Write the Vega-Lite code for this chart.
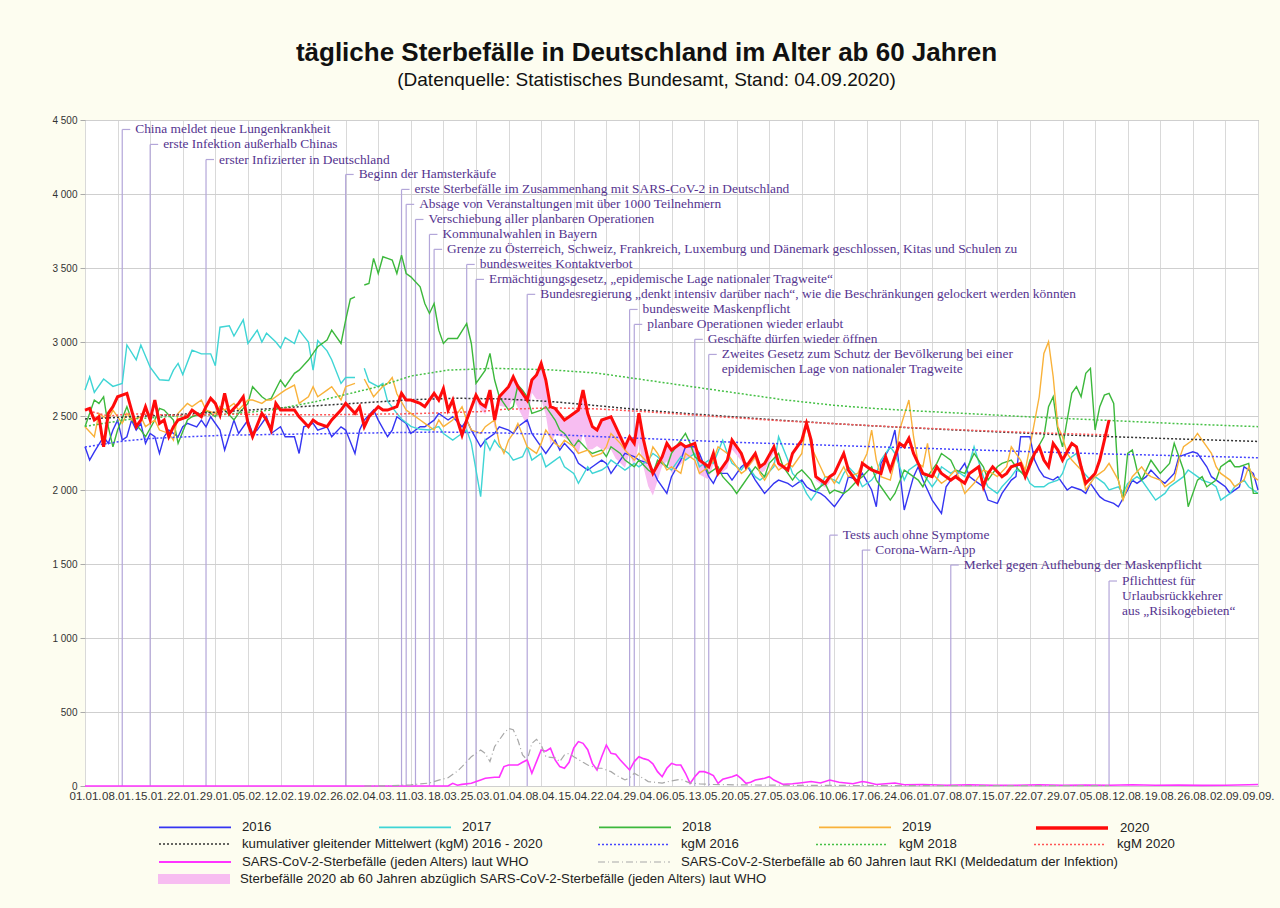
{
"$schema":"https://vega.github.io/schema/vega-lite/v6.json",
"width":1173,"height":666,
"autosize":{"type":"none"},
"padding":{"left":85,"top":120,"right":22,"bottom":122},
"background":"#fdfdf0",
"title":{"text":"tägliche Sterbefälle in Deutschland im Alter ab 60 Jahren","subtitle":"(Datenquelle: Statistisches Bundesamt, Stand: 04.09.2020)","anchor":"middle","dx":-25,"offset":25,"font":"Liberation Sans","fontSize":26,"fontWeight":"bold","color":"#111","subtitleFont":"Liberation Sans","subtitleFontSize":19,"subtitleColor":"#111","subtitlePadding":5},
"config":{"view":{"stroke":"#999","fill":"white"},"font":"Liberation Sans"},
"datasets":{
"ann":[
{"t":8,"v":4436,"txt":"China meldet neue Lungenkrankheit"},
{"t":14,"v":4335,"txt":"erste Infektion außerhalb Chinas"},
{"t":26,"v":4233,"txt":"erster Infizierter in Deutschland"},
{"t":56,"v":4132,"txt":"Beginn der Hamsterkäufe"},
{"t":68,"v":4031,"txt":"erste Sterbefälle im Zusammenhang mit SARS-CoV-2 in Deutschland"},
{"t":69,"v":3930,"txt":"Absage von Veranstaltungen mit über 1000 Teilnehmern"},
{"t":71,"v":3828,"txt":"Verschiebung aller planbaren Operationen"},
{"t":74,"v":3727,"txt":"Kommunalwahlen in Bayern"},
{"t":75,"v":3626,"txt":"Grenze zu Österreich, Schweiz, Frankreich, Luxemburg und Dänemark geschlossen, Kitas und Schulen zu"},
{"t":82,"v":3524,"txt":"bundesweites Kontaktverbot"},
{"t":84,"v":3423,"txt":"Ermächtigungsgesetz, „epidemische Lage nationaler Tragweite“"},
{"t":95,"v":3322,"txt":"Bundesregierung „denkt intensiv darüber nach“, wie die Beschränkungen gelockert werden könnten"},
{"t":117,"v":3220,"txt":"bundesweite Maskenpflicht"},
{"t":118,"v":3119,"txt":"planbare Operationen wieder erlaubt"},
{"t":131,"v":3018,"txt":"Geschäfte dürfen wieder öffnen"},
{"t":134,"v":2916,"txt":"Zweites Gesetz zum Schutz der Bevölkerung bei einer\nepidemischen Lage von nationaler Tragweite"},
{"t":160,"v":1695,"txt":"Tests auch ohne Symptome"},
{"t":167,"v":1594,"txt":"Corona-Warn-App"},
{"t":186,"v":1493,"txt":"Merkel gegen Aufhebung der Maskenpflicht"},
{"t":220,"v":1385,"txt":"Pflichttest für\nUrlaubsrückkehrer\naus „Risikogebieten“"}
],
"ex":[
{"t":78,"v":2540,"lo":2540},{"t":79,"v":2608,"lo":2590},{"t":80,"v":2473,"lo":2468},{"t":81,"v":2371,"lo":2360},{"t":82,"v":2473,"lo":2458},{"t":84,"v":2641,"lo":2611},{"t":85,"v":2585,"lo":2544},{"t":86,"v":2563,"lo":2511},{"t":87,"v":2675,"lo":2620},{"t":88,"v":2473,"lo":2414},{"t":89,"v":2630,"lo":2570},{"t":91,"v":2698,"lo":2556},{"t":92,"v":2765,"lo":2623},{"t":93,"v":2698,"lo":2556},{"t":95,"v":2608,"lo":2432},{"t":96,"v":2743,"lo":2657},{"t":97,"v":2777,"lo":2612},{"t":98,"v":2855,"lo":2612},{"t":99,"v":2743,"lo":2508},{"t":100,"v":2563,"lo":2308},{"t":101,"v":2551,"lo":2375},{"t":103,"v":2473,"lo":2353},{"t":104,"v":2495,"lo":2335},{"t":106,"v":2540,"lo":2240},{"t":107,"v":2675,"lo":2387},{"t":108,"v":2518,"lo":2273},{"t":109,"v":2428,"lo":2275},{"t":110,"v":2405,"lo":2297},{"t":111,"v":2473,"lo":2275},{"t":113,"v":2495,"lo":2274},{"t":114,"v":2428,"lo":2213},{"t":116,"v":2292,"lo":2150},{"t":117,"v":2360,"lo":2252},{"t":118,"v":2315,"lo":2150},{"t":119,"v":2518,"lo":2320},{"t":120,"v":2337,"lo":2152},{"t":121,"v":2202,"lo":2026},{"t":122,"v":2112,"lo":1962},{"t":124,"v":2225,"lo":2162},{"t":125,"v":2315,"lo":2195},{"t":126,"v":2270,"lo":2117},{"t":128,"v":2315,"lo":2173},{"t":129,"v":2292,"lo":2206},{"t":131,"v":2315,"lo":2252},{"t":132,"v":2202,"lo":2105},{"t":134,"v":2157,"lo":2071},{"t":135,"v":2247,"lo":2177},{"t":136,"v":2112,"lo":2094},{"t":138,"v":2202,"lo":2147},{"t":139,"v":2337,"lo":2274},{"t":141,"v":2247,"lo":2197},{"t":142,"v":2157,"lo":2139},{"t":144,"v":2247,"lo":2206},{"t":145,"v":2157,"lo":2112},{"t":146,"v":2180,"lo":2128},{"t":148,"v":2292,"lo":2252},{"t":149,"v":2180,"lo":2155},{"t":151,"v":2135,"lo":2122},{"t":152,"v":2247,"lo":2232},{"t":154,"v":2337,"lo":2315},{"t":155,"v":2450,"lo":2424},{"t":156,"v":2337,"lo":2307},{"t":157,"v":2090,"lo":2065},{"t":159,"v":2045,"lo":2015},{"t":160,"v":2090,"lo":2050}
],
"years":[
{"yr":"2016","t":0,"v":2292},{"yr":"2016","t":1,"v":2202},{"yr":"2016","t":2,"v":2258},{"yr":"2016","t":4,"v":2360},{"yr":"2016","t":5,"v":2315},{"yr":"2016","t":6,"v":2405},{"yr":"2016","t":7,"v":2472},{"yr":"2016","t":8,"v":2337},{"yr":"2016","t":9,"v":2360},{"yr":"2016","t":10,"v":2472},{"yr":"2016","t":11,"v":2405},{"yr":"2016","t":12,"v":2450},{"yr":"2016","t":13,"v":2315},{"yr":"2016","t":14,"v":2382},{"yr":"2016","t":15,"v":2360},{"yr":"2016","t":16,"v":2247},{"yr":"2016","t":17,"v":2360},{"yr":"2016","t":18,"v":2405},{"yr":"2016","t":20,"v":2360},{"yr":"2016","t":21,"v":2427},{"yr":"2016","t":22,"v":2450},{"yr":"2016","t":24,"v":2427},{"yr":"2016","t":25,"v":2472},{"yr":"2016","t":26,"v":2427},{"yr":"2016","t":27,"v":2495},{"yr":"2016","t":29,"v":2405},{"yr":"2016","t":30,"v":2270},{"yr":"2016","t":32,"v":2472},{"yr":"2016","t":33,"v":2382},{"yr":"2016","t":35,"v":2472},{"yr":"2016","t":36,"v":2382},{"yr":"2016","t":37,"v":2405},{"yr":"2016","t":39,"v":2495},{"yr":"2016","t":40,"v":2382},{"yr":"2016","t":42,"v":2427},{"yr":"2016","t":43,"v":2360},{"yr":"2016","t":45,"v":2360},{"yr":"2016","t":46,"v":2247},{"yr":"2016","t":47,"v":2427},{"yr":"2016","t":49,"v":2450},{"yr":"2016","t":50,"v":2405},{"yr":"2016","t":52,"v":2427},{"yr":"2016","t":53,"v":2360},{"yr":"2016","t":55,"v":2427},{"yr":"2016","t":56,"v":2405},{"yr":"2016","t":58,"v":2247},{"yr":"2016","t":59,"v":2405},{"yr":"2016","t":60,"v":2472},{"yr":"2016","t":62,"v":2540},{"yr":"2016","t":63,"v":2472},{"yr":"2016","t":65,"v":2360},{"yr":"2016","t":66,"v":2405},{"yr":"2016","t":67,"v":2495},{"yr":"2016","t":69,"v":2450},{"yr":"2016","t":70,"v":2382},{"yr":"2016","t":72,"v":2427},{"yr":"2016","t":73,"v":2427},{"yr":"2016","t":75,"v":2472},{"yr":"2016","t":76,"v":2517},{"yr":"2016","t":78,"v":2473},{"yr":"2016","t":79,"v":2495},{"yr":"2016","t":81,"v":2427},{"yr":"2016","t":82,"v":2473},{"yr":"2016","t":83,"v":2405},{"yr":"2016","t":85,"v":2292},{"yr":"2016","t":86,"v":2337},{"yr":"2016","t":88,"v":2382},{"yr":"2016","t":89,"v":2427},{"yr":"2016","t":91,"v":2405},{"yr":"2016","t":92,"v":2382},{"yr":"2016","t":93,"v":2427},{"yr":"2016","t":95,"v":2473},{"yr":"2016","t":96,"v":2382},{"yr":"2016","t":98,"v":2292},{"yr":"2016","t":99,"v":2247},{"yr":"2016","t":101,"v":2337},{"yr":"2016","t":102,"v":2270},{"yr":"2016","t":103,"v":2315},{"yr":"2016","t":105,"v":2247},{"yr":"2016","t":106,"v":2180},{"yr":"2016","t":108,"v":2135},{"yr":"2016","t":109,"v":2157},{"yr":"2016","t":111,"v":2202},{"yr":"2016","t":112,"v":2180},{"yr":"2016","t":113,"v":2112},{"yr":"2016","t":115,"v":2202},{"yr":"2016","t":116,"v":2247},{"yr":"2016","t":118,"v":2225},{"yr":"2016","t":119,"v":2202},{"yr":"2016","t":121,"v":2180},{"yr":"2016","t":122,"v":2135},{"yr":"2016","t":123,"v":2067},{"yr":"2016","t":125,"v":1977},{"yr":"2016","t":126,"v":2090},{"yr":"2016","t":128,"v":2202},{"yr":"2016","t":129,"v":2292},{"yr":"2016","t":131,"v":2292},{"yr":"2016","t":132,"v":2247},{"yr":"2016","t":134,"v":2090},{"yr":"2016","t":135,"v":2045},{"yr":"2016","t":136,"v":2112},{"yr":"2016","t":138,"v":2112},{"yr":"2016","t":139,"v":2067},{"yr":"2016","t":141,"v":2157},{"yr":"2016","t":142,"v":2180},{"yr":"2016","t":144,"v":2067},{"yr":"2016","t":145,"v":2022},{"yr":"2016","t":146,"v":1977},{"yr":"2016","t":148,"v":2045},{"yr":"2016","t":149,"v":2067},{"yr":"2016","t":151,"v":2045},{"yr":"2016","t":152,"v":2022},{"yr":"2016","t":154,"v":2067},{"yr":"2016","t":155,"v":2022},{"yr":"2016","t":156,"v":2000},{"yr":"2016","t":158,"v":1977},{"yr":"2016","t":159,"v":1955},{"yr":"2016","t":161,"v":1887},{"yr":"2016","t":162,"v":1932},{"yr":"2016","t":163,"v":1977},{"yr":"2016","t":164,"v":2090},{"yr":"2016","t":166,"v":2067},{"yr":"2016","t":167,"v":2112},{"yr":"2016","t":169,"v":2000},{"yr":"2016","t":170,"v":1887},{"yr":"2016","t":171,"v":2180},{"yr":"2016","t":173,"v":2292},{"yr":"2016","t":174,"v":2405},{"yr":"2016","t":175,"v":2135},{"yr":"2016","t":176,"v":1865},{"yr":"2016","t":178,"v":2090},{"yr":"2016","t":179,"v":2157},{"yr":"2016","t":180,"v":2067},{"yr":"2016","t":181,"v":2000},{"yr":"2016","t":182,"v":1932},{"yr":"2016","t":184,"v":1842},{"yr":"2016","t":185,"v":2022},{"yr":"2016","t":186,"v":2067},{"yr":"2016","t":187,"v":2090},{"yr":"2016","t":189,"v":2180},{"yr":"2016","t":190,"v":2090},{"yr":"2016","t":191,"v":2067},{"yr":"2016","t":193,"v":2022},{"yr":"2016","t":194,"v":1932},{"yr":"2016","t":196,"v":1910},{"yr":"2016","t":197,"v":1977},{"yr":"2016","t":199,"v":2067},{"yr":"2016","t":200,"v":2090},{"yr":"2016","t":201,"v":2360},{"yr":"2016","t":203,"v":2360},{"yr":"2016","t":204,"v":2202},{"yr":"2016","t":205,"v":2135},{"yr":"2016","t":206,"v":2090},{"yr":"2016","t":208,"v":2067},{"yr":"2016","t":209,"v":2090},{"yr":"2016","t":211,"v":2000},{"yr":"2016","t":212,"v":2022},{"yr":"2016","t":214,"v":2000},{"yr":"2016","t":215,"v":1977},{"yr":"2016","t":216,"v":2045},{"yr":"2016","t":218,"v":1955},{"yr":"2016","t":219,"v":1932},{"yr":"2016","t":221,"v":1910},{"yr":"2016","t":222,"v":1887},{"yr":"2016","t":224,"v":2000},{"yr":"2016","t":225,"v":2067},{"yr":"2016","t":226,"v":2045},{"yr":"2016","t":228,"v":2090},{"yr":"2016","t":229,"v":2135},{"yr":"2016","t":231,"v":2067},{"yr":"2016","t":232,"v":2045},{"yr":"2016","t":234,"v":2112},{"yr":"2016","t":235,"v":2225},{"yr":"2016","t":237,"v":2247},{"yr":"2016","t":238,"v":2258},{"yr":"2016","t":239,"v":2247},{"yr":"2016","t":241,"v":2157},{"yr":"2016","t":242,"v":2090},{"yr":"2016","t":244,"v":2045},{"yr":"2016","t":245,"v":2022},{"yr":"2016","t":246,"v":1977},{"yr":"2016","t":248,"v":2022},{"yr":"2016","t":249,"v":2157},{"yr":"2016","t":251,"v":2112},{"yr":"2016","t":252,"v":2000},
{"yr":"2017","t":0,"v":2675},{"yr":"2017","t":1,"v":2765},{"yr":"2017","t":2,"v":2660},{"yr":"2017","t":4,"v":2750},{"yr":"2017","t":6,"v":2700},{"yr":"2017","t":8,"v":2720},{"yr":"2017","t":9,"v":2980},{"yr":"2017","t":11,"v":2880},{"yr":"2017","t":12,"v":2980},{"yr":"2017","t":14,"v":2830},{"yr":"2017","t":16,"v":2745},{"yr":"2017","t":18,"v":2740},{"yr":"2017","t":19,"v":2810},{"yr":"2017","t":20,"v":2855},{"yr":"2017","t":21,"v":2780},{"yr":"2017","t":23,"v":2945},{"yr":"2017","t":25,"v":2920},{"yr":"2017","t":27,"v":2920},{"yr":"2017","t":28,"v":2840},{"yr":"2017","t":29,"v":3100},{"yr":"2017","t":31,"v":3110},{"yr":"2017","t":32,"v":3040},{"yr":"2017","t":34,"v":3150},{"yr":"2017","t":35,"v":2990},{"yr":"2017","t":37,"v":3080},{"yr":"2017","t":38,"v":3000},{"yr":"2017","t":39,"v":3060},{"yr":"2017","t":41,"v":3000},{"yr":"2017","t":42,"v":2960},{"yr":"2017","t":43,"v":3030},{"yr":"2017","t":45,"v":2990},{"yr":"2017","t":46,"v":3080},{"yr":"2017","t":48,"v":3000},{"yr":"2017","t":49,"v":2810},{"yr":"2017","t":50,"v":3010},{"yr":"2017","t":52,"v":2940},{"yr":"2017","t":53,"v":2880},{"yr":"2017","t":55,"v":2720},{"yr":"2017","t":56,"v":2760},{"yr":"2017","t":58,"v":2760},{"yr":"2017","t":59,"v":null},{"yr":"2017","t":60,"v":2822},{"yr":"2017","t":61,"v":2732},{"yr":"2017","t":63,"v":2698},{"yr":"2017","t":64,"v":2720},{"yr":"2017","t":65,"v":2600},{"yr":"2017","t":67,"v":2518},{"yr":"2017","t":68,"v":2480},{"yr":"2017","t":70,"v":2430},{"yr":"2017","t":72,"v":2410},{"yr":"2017","t":74,"v":2405},{"yr":"2017","t":75,"v":2420},{"yr":"2017","t":76,"v":2428},{"yr":"2017","t":77,"v":2382},{"yr":"2017","t":79,"v":2337},{"yr":"2017","t":80,"v":2360},{"yr":"2017","t":82,"v":2405},{"yr":"2017","t":83,"v":2315},{"yr":"2017","t":85,"v":1955},{"yr":"2017","t":86,"v":2337},{"yr":"2017","t":87,"v":2270},{"yr":"2017","t":88,"v":2337},{"yr":"2017","t":89,"v":2292},{"yr":"2017","t":91,"v":2247},{"yr":"2017","t":92,"v":2202},{"yr":"2017","t":94,"v":2225},{"yr":"2017","t":95,"v":2292},{"yr":"2017","t":96,"v":2202},{"yr":"2017","t":98,"v":2247},{"yr":"2017","t":99,"v":2157},{"yr":"2017","t":101,"v":2202},{"yr":"2017","t":102,"v":2225},{"yr":"2017","t":103,"v":2157},{"yr":"2017","t":105,"v":2112},{"yr":"2017","t":106,"v":2045},{"yr":"2017","t":108,"v":2157},{"yr":"2017","t":109,"v":2112},{"yr":"2017","t":111,"v":2135},{"yr":"2017","t":112,"v":2157},{"yr":"2017","t":113,"v":2202},{"yr":"2017","t":115,"v":2157},{"yr":"2017","t":116,"v":2135},{"yr":"2017","t":118,"v":2180},{"yr":"2017","t":119,"v":2157},{"yr":"2017","t":121,"v":2202},{"yr":"2017","t":122,"v":2247},{"yr":"2017","t":123,"v":2225},{"yr":"2017","t":125,"v":2157},{"yr":"2017","t":126,"v":2135},{"yr":"2017","t":128,"v":2225},{"yr":"2017","t":129,"v":2202},{"yr":"2017","t":131,"v":2247},{"yr":"2017","t":132,"v":2157},{"yr":"2017","t":134,"v":2202},{"yr":"2017","t":135,"v":2180},{"yr":"2017","t":137,"v":2337},{"yr":"2017","t":138,"v":2247},{"yr":"2017","t":139,"v":2180},{"yr":"2017","t":141,"v":2135},{"yr":"2017","t":142,"v":2180},{"yr":"2017","t":144,"v":2090},{"yr":"2017","t":145,"v":2067},{"yr":"2017","t":146,"v":2090},{"yr":"2017","t":148,"v":2157},{"yr":"2017","t":149,"v":2360},{"yr":"2017","t":151,"v":2202},{"yr":"2017","t":152,"v":2112},{"yr":"2017","t":154,"v":2045},{"yr":"2017","t":155,"v":1977},{"yr":"2017","t":156,"v":1932},{"yr":"2017","t":158,"v":2022},{"yr":"2017","t":159,"v":2090},{"yr":"2017","t":161,"v":2067},{"yr":"2017","t":162,"v":2045},{"yr":"2017","t":163,"v":2112},{"yr":"2017","t":164,"v":2157},{"yr":"2017","t":166,"v":2090},{"yr":"2017","t":167,"v":2022},{"yr":"2017","t":169,"v":2067},{"yr":"2017","t":170,"v":2112},{"yr":"2017","t":171,"v":2202},{"yr":"2017","t":173,"v":2292},{"yr":"2017","t":174,"v":2247},{"yr":"2017","t":176,"v":2067},{"yr":"2017","t":177,"v":2135},{"yr":"2017","t":179,"v":2180},{"yr":"2017","t":180,"v":2112},{"yr":"2017","t":182,"v":2022},{"yr":"2017","t":183,"v":2067},{"yr":"2017","t":184,"v":2157},{"yr":"2017","t":186,"v":2112},{"yr":"2017","t":187,"v":2135},{"yr":"2017","t":189,"v":2090},{"yr":"2017","t":190,"v":2180},{"yr":"2017","t":191,"v":2292},{"yr":"2017","t":193,"v":2090},{"yr":"2017","t":194,"v":2022},{"yr":"2017","t":196,"v":1977},{"yr":"2017","t":197,"v":2022},{"yr":"2017","t":199,"v":2090},{"yr":"2017","t":200,"v":2135},{"yr":"2017","t":202,"v":2112},{"yr":"2017","t":203,"v":2045},{"yr":"2017","t":204,"v":2022},{"yr":"2017","t":206,"v":2022},{"yr":"2017","t":207,"v":2045},{"yr":"2017","t":209,"v":2067},{"yr":"2017","t":210,"v":2112},{"yr":"2017","t":211,"v":2202},{"yr":"2017","t":213,"v":2247},{"yr":"2017","t":214,"v":2135},{"yr":"2017","t":216,"v":2067},{"yr":"2017","t":217,"v":2090},{"yr":"2017","t":219,"v":2045},{"yr":"2017","t":220,"v":2000},{"yr":"2017","t":222,"v":2022},{"yr":"2017","t":223,"v":1977},{"yr":"2017","t":224,"v":2045},{"yr":"2017","t":226,"v":2090},{"yr":"2017","t":227,"v":2067},{"yr":"2017","t":229,"v":1977},{"yr":"2017","t":230,"v":1932},{"yr":"2017","t":232,"v":1977},{"yr":"2017","t":233,"v":2022},{"yr":"2017","t":234,"v":2045},{"yr":"2017","t":236,"v":2090},{"yr":"2017","t":237,"v":2135},{"yr":"2017","t":239,"v":2090},{"yr":"2017","t":240,"v":2067},{"yr":"2017","t":242,"v":2045},{"yr":"2017","t":243,"v":2022},{"yr":"2017","t":244,"v":1932},{"yr":"2017","t":246,"v":1977},{"yr":"2017","t":247,"v":2022},{"yr":"2017","t":249,"v":2067},{"yr":"2017","t":250,"v":2022},{"yr":"2017","t":252,"v":1977},
{"yr":"2018","t":0,"v":2428},{"yr":"2018","t":2,"v":2608},{"yr":"2018","t":3,"v":2585},{"yr":"2018","t":4,"v":2630},{"yr":"2018","t":5,"v":2428},{"yr":"2018","t":6,"v":2292},{"yr":"2018","t":7,"v":2405},{"yr":"2018","t":9,"v":2563},{"yr":"2018","t":10,"v":2473},{"yr":"2018","t":12,"v":2405},{"yr":"2018","t":13,"v":2360},{"yr":"2018","t":15,"v":2473},{"yr":"2018","t":16,"v":2551},{"yr":"2018","t":17,"v":2540},{"yr":"2018","t":19,"v":2473},{"yr":"2018","t":20,"v":2315},{"yr":"2018","t":22,"v":2473},{"yr":"2018","t":23,"v":2495},{"yr":"2018","t":25,"v":2518},{"yr":"2018","t":26,"v":2540},{"yr":"2018","t":28,"v":2495},{"yr":"2018","t":29,"v":2563},{"yr":"2018","t":30,"v":2540},{"yr":"2018","t":32,"v":2473},{"yr":"2018","t":33,"v":2518},{"yr":"2018","t":35,"v":2585},{"yr":"2018","t":36,"v":2698},{"yr":"2018","t":38,"v":2630},{"yr":"2018","t":39,"v":2608},{"yr":"2018","t":40,"v":2619},{"yr":"2018","t":42,"v":2743},{"yr":"2018","t":43,"v":2698},{"yr":"2018","t":45,"v":2788},{"yr":"2018","t":46,"v":2810},{"yr":"2018","t":48,"v":2878},{"yr":"2018","t":49,"v":2923},{"yr":"2018","t":50,"v":2968},{"yr":"2018","t":52,"v":3013},{"yr":"2018","t":53,"v":3080},{"yr":"2018","t":55,"v":2990},{"yr":"2018","t":56,"v":3148},{"yr":"2018","t":57,"v":3290},{"yr":"2018","t":58,"v":3305},{"yr":"2018","t":59,"v":null},{"yr":"2018","t":60,"v":3385},{"yr":"2018","t":61,"v":3395},{"yr":"2018","t":62,"v":3565},{"yr":"2018","t":63,"v":3463},{"yr":"2018","t":64,"v":3576},{"yr":"2018","t":65,"v":3565},{"yr":"2018","t":66,"v":3554},{"yr":"2018","t":67,"v":3463},{"yr":"2018","t":68,"v":3587},{"yr":"2018","t":69,"v":3463},{"yr":"2018","t":70,"v":3440},{"yr":"2018","t":72,"v":3373},{"yr":"2018","t":73,"v":3260},{"yr":"2018","t":74,"v":3193},{"yr":"2018","t":75,"v":3260},{"yr":"2018","t":76,"v":3080},{"yr":"2018","t":77,"v":2990},{"yr":"2018","t":78,"v":3024},{"yr":"2018","t":80,"v":3024},{"yr":"2018","t":82,"v":3125},{"yr":"2018","t":83,"v":2990},{"yr":"2018","t":84,"v":2720},{"yr":"2018","t":86,"v":2810},{"yr":"2018","t":87,"v":2923},{"yr":"2018","t":88,"v":2743},{"yr":"2018","t":89,"v":2630},{"yr":"2018","t":91,"v":2540},{"yr":"2018","t":92,"v":2563},{"yr":"2018","t":93,"v":2709},{"yr":"2018","t":94,"v":2675},{"yr":"2018","t":95,"v":2630},{"yr":"2018","t":96,"v":2518},{"yr":"2018","t":98,"v":2540},{"yr":"2018","t":99,"v":2563},{"yr":"2018","t":101,"v":2473},{"yr":"2018","t":102,"v":2405},{"yr":"2018","t":103,"v":2382},{"yr":"2018","t":105,"v":2292},{"yr":"2018","t":106,"v":2337},{"yr":"2018","t":108,"v":2270},{"yr":"2018","t":109,"v":2247},{"yr":"2018","t":111,"v":2270},{"yr":"2018","t":112,"v":2225},{"yr":"2018","t":113,"v":2292},{"yr":"2018","t":115,"v":2247},{"yr":"2018","t":116,"v":2202},{"yr":"2018","t":118,"v":2157},{"yr":"2018","t":119,"v":2202},{"yr":"2018","t":121,"v":2135},{"yr":"2018","t":122,"v":2112},{"yr":"2018","t":123,"v":2202},{"yr":"2018","t":125,"v":2157},{"yr":"2018","t":126,"v":2247},{"yr":"2018","t":128,"v":2337},{"yr":"2018","t":129,"v":2382},{"yr":"2018","t":130,"v":2315},{"yr":"2018","t":131,"v":2225},{"yr":"2018","t":133,"v":2180},{"yr":"2018","t":134,"v":2112},{"yr":"2018","t":136,"v":2157},{"yr":"2018","t":137,"v":2090},{"yr":"2018","t":139,"v":2022},{"yr":"2018","t":140,"v":1977},{"yr":"2018","t":141,"v":2022},{"yr":"2018","t":143,"v":2112},{"yr":"2018","t":144,"v":2157},{"yr":"2018","t":146,"v":2090},{"yr":"2018","t":147,"v":2180},{"yr":"2018","t":149,"v":2247},{"yr":"2018","t":150,"v":2157},{"yr":"2018","t":152,"v":2067},{"yr":"2018","t":153,"v":2112},{"yr":"2018","t":154,"v":2135},{"yr":"2018","t":156,"v":2067},{"yr":"2018","t":157,"v":2000},{"yr":"2018","t":159,"v":2045},{"yr":"2018","t":160,"v":1977},{"yr":"2018","t":161,"v":2000},{"yr":"2018","t":163,"v":1977},{"yr":"2018","t":164,"v":2000},{"yr":"2018","t":166,"v":2067},{"yr":"2018","t":167,"v":2090},{"yr":"2018","t":169,"v":2157},{"yr":"2018","t":170,"v":2067},{"yr":"2018","t":171,"v":2022},{"yr":"2018","t":173,"v":1932},{"yr":"2018","t":174,"v":1977},{"yr":"2018","t":176,"v":2135},{"yr":"2018","t":177,"v":2112},{"yr":"2018","t":179,"v":2067},{"yr":"2018","t":180,"v":2022},{"yr":"2018","t":181,"v":2090},{"yr":"2018","t":183,"v":2180},{"yr":"2018","t":184,"v":2247},{"yr":"2018","t":186,"v":2202},{"yr":"2018","t":187,"v":2135},{"yr":"2018","t":189,"v":2112},{"yr":"2018","t":190,"v":2180},{"yr":"2018","t":191,"v":2247},{"yr":"2018","t":193,"v":2157},{"yr":"2018","t":194,"v":2067},{"yr":"2018","t":196,"v":2157},{"yr":"2018","t":197,"v":2180},{"yr":"2018","t":199,"v":2202},{"yr":"2018","t":200,"v":2157},{"yr":"2018","t":202,"v":2090},{"yr":"2018","t":203,"v":2202},{"yr":"2018","t":204,"v":2247},{"yr":"2018","t":206,"v":2360},{"yr":"2018","t":207,"v":2563},{"yr":"2018","t":208,"v":2630},{"yr":"2018","t":209,"v":2405},{"yr":"2018","t":210,"v":2292},{"yr":"2018","t":211,"v":2473},{"yr":"2018","t":212,"v":2653},{"yr":"2018","t":213,"v":2698},{"yr":"2018","t":214,"v":2630},{"yr":"2018","t":215,"v":2788},{"yr":"2018","t":216,"v":2822},{"yr":"2018","t":217,"v":2405},{"yr":"2018","t":218,"v":2563},{"yr":"2018","t":219,"v":2641},{"yr":"2018","t":220,"v":2653},{"yr":"2018","t":221,"v":2585},{"yr":"2018","t":222,"v":2067},{"yr":"2018","t":223,"v":1932},{"yr":"2018","t":224,"v":2247},{"yr":"2018","t":225,"v":2270},{"yr":"2018","t":226,"v":2135},{"yr":"2018","t":227,"v":2067},{"yr":"2018","t":229,"v":2202},{"yr":"2018","t":230,"v":2157},{"yr":"2018","t":231,"v":2112},{"yr":"2018","t":233,"v":2180},{"yr":"2018","t":234,"v":2315},{"yr":"2018","t":236,"v":2135},{"yr":"2018","t":237,"v":1887},{"yr":"2018","t":239,"v":2067},{"yr":"2018","t":240,"v":2090},{"yr":"2018","t":241,"v":2022},{"yr":"2018","t":243,"v":2067},{"yr":"2018","t":244,"v":2157},{"yr":"2018","t":246,"v":2202},{"yr":"2018","t":247,"v":2157},{"yr":"2018","t":248,"v":2157},{"yr":"2018","t":250,"v":2180},{"yr":"2018","t":251,"v":1977},{"yr":"2018","t":252,"v":1977},
{"yr":"2019","t":0,"v":2428},{"yr":"2019","t":2,"v":2360},{"yr":"2019","t":3,"v":2518},{"yr":"2019","t":5,"v":2473},{"yr":"2019","t":6,"v":2540},{"yr":"2019","t":8,"v":2450},{"yr":"2019","t":9,"v":2518},{"yr":"2019","t":10,"v":2473},{"yr":"2019","t":12,"v":2495},{"yr":"2019","t":13,"v":2428},{"yr":"2019","t":15,"v":2473},{"yr":"2019","t":16,"v":2405},{"yr":"2019","t":18,"v":2382},{"yr":"2019","t":19,"v":2337},{"yr":"2019","t":20,"v":2518},{"yr":"2019","t":22,"v":2585},{"yr":"2019","t":23,"v":2563},{"yr":"2019","t":25,"v":2608},{"yr":"2019","t":26,"v":2540},{"yr":"2019","t":28,"v":2518},{"yr":"2019","t":29,"v":2563},{"yr":"2019","t":30,"v":2540},{"yr":"2019","t":32,"v":2585},{"yr":"2019","t":33,"v":2540},{"yr":"2019","t":35,"v":2608},{"yr":"2019","t":36,"v":2608},{"yr":"2019","t":38,"v":2585},{"yr":"2019","t":39,"v":2608},{"yr":"2019","t":40,"v":2608},{"yr":"2019","t":42,"v":2653},{"yr":"2019","t":43,"v":2675},{"yr":"2019","t":45,"v":2709},{"yr":"2019","t":46,"v":2585},{"yr":"2019","t":48,"v":2630},{"yr":"2019","t":49,"v":2698},{"yr":"2019","t":50,"v":2630},{"yr":"2019","t":52,"v":2675},{"yr":"2019","t":53,"v":2698},{"yr":"2019","t":55,"v":2608},{"yr":"2019","t":56,"v":2698},{"yr":"2019","t":58,"v":2720},{"yr":"2019","t":59,"v":null},{"yr":"2019","t":60,"v":2750},{"yr":"2019","t":61,"v":2690},{"yr":"2019","t":62,"v":2630},{"yr":"2019","t":64,"v":2700},{"yr":"2019","t":65,"v":2720},{"yr":"2019","t":66,"v":2760},{"yr":"2019","t":67,"v":2650},{"yr":"2019","t":69,"v":2540},{"yr":"2019","t":70,"v":2518},{"yr":"2019","t":72,"v":2473},{"yr":"2019","t":73,"v":2450},{"yr":"2019","t":75,"v":2405},{"yr":"2019","t":76,"v":2473},{"yr":"2019","t":77,"v":2428},{"yr":"2019","t":79,"v":2473},{"yr":"2019","t":81,"v":2563},{"yr":"2019","t":82,"v":2473},{"yr":"2019","t":83,"v":2405},{"yr":"2019","t":85,"v":2382},{"yr":"2019","t":86,"v":2428},{"yr":"2019","t":88,"v":2473},{"yr":"2019","t":89,"v":2315},{"yr":"2019","t":90,"v":2247},{"yr":"2019","t":91,"v":2337},{"yr":"2019","t":92,"v":2382},{"yr":"2019","t":93,"v":2450},{"yr":"2019","t":95,"v":2292},{"yr":"2019","t":97,"v":2247},{"yr":"2019","t":98,"v":2315},{"yr":"2019","t":99,"v":2405},{"yr":"2019","t":101,"v":2315},{"yr":"2019","t":102,"v":2292},{"yr":"2019","t":103,"v":2337},{"yr":"2019","t":105,"v":2292},{"yr":"2019","t":106,"v":2247},{"yr":"2019","t":108,"v":2270},{"yr":"2019","t":109,"v":2225},{"yr":"2019","t":111,"v":2247},{"yr":"2019","t":112,"v":2292},{"yr":"2019","t":113,"v":2382},{"yr":"2019","t":115,"v":2315},{"yr":"2019","t":116,"v":2270},{"yr":"2019","t":118,"v":2202},{"yr":"2019","t":119,"v":2247},{"yr":"2019","t":121,"v":2180},{"yr":"2019","t":122,"v":2292},{"yr":"2019","t":123,"v":2247},{"yr":"2019","t":125,"v":2135},{"yr":"2019","t":126,"v":2157},{"yr":"2019","t":128,"v":2112},{"yr":"2019","t":129,"v":2247},{"yr":"2019","t":131,"v":2202},{"yr":"2019","t":132,"v":2112},{"yr":"2019","t":134,"v":2157},{"yr":"2019","t":135,"v":2202},{"yr":"2019","t":136,"v":2292},{"yr":"2019","t":138,"v":2247},{"yr":"2019","t":139,"v":2202},{"yr":"2019","t":141,"v":2112},{"yr":"2019","t":142,"v":2135},{"yr":"2019","t":144,"v":2225},{"yr":"2019","t":145,"v":2112},{"yr":"2019","t":146,"v":2067},{"yr":"2019","t":148,"v":2180},{"yr":"2019","t":149,"v":2135},{"yr":"2019","t":151,"v":2180},{"yr":"2019","t":152,"v":2157},{"yr":"2019","t":154,"v":2247},{"yr":"2019","t":155,"v":2473},{"yr":"2019","t":156,"v":2292},{"yr":"2019","t":158,"v":2157},{"yr":"2019","t":159,"v":2090},{"yr":"2019","t":160,"v":2090},{"yr":"2019","t":161,"v":2045},{"yr":"2019","t":163,"v":2157},{"yr":"2019","t":164,"v":2090},{"yr":"2019","t":166,"v":2112},{"yr":"2019","t":167,"v":2180},{"yr":"2019","t":168,"v":2247},{"yr":"2019","t":169,"v":2405},{"yr":"2019","t":170,"v":2202},{"yr":"2019","t":171,"v":2090},{"yr":"2019","t":173,"v":2067},{"yr":"2019","t":174,"v":2202},{"yr":"2019","t":175,"v":2405},{"yr":"2019","t":177,"v":2608},{"yr":"2019","t":178,"v":2360},{"yr":"2019","t":179,"v":2180},{"yr":"2019","t":180,"v":2157},{"yr":"2019","t":181,"v":2315},{"yr":"2019","t":182,"v":2112},{"yr":"2019","t":184,"v":2045},{"yr":"2019","t":185,"v":2067},{"yr":"2019","t":187,"v":2135},{"yr":"2019","t":188,"v":2067},{"yr":"2019","t":189,"v":1977},{"yr":"2019","t":191,"v":2045},{"yr":"2019","t":192,"v":2090},{"yr":"2019","t":193,"v":2135},{"yr":"2019","t":195,"v":2112},{"yr":"2019","t":196,"v":2090},{"yr":"2019","t":198,"v":2157},{"yr":"2019","t":199,"v":2292},{"yr":"2019","t":201,"v":2202},{"yr":"2019","t":202,"v":2135},{"yr":"2019","t":203,"v":2292},{"yr":"2019","t":205,"v":2630},{"yr":"2019","t":206,"v":2923},{"yr":"2019","t":207,"v":3002},{"yr":"2019","t":208,"v":2765},{"yr":"2019","t":209,"v":2428},{"yr":"2019","t":210,"v":2360},{"yr":"2019","t":211,"v":2247},{"yr":"2019","t":212,"v":2202},{"yr":"2019","t":214,"v":2135},{"yr":"2019","t":215,"v":2000},{"yr":"2019","t":217,"v":2090},{"yr":"2019","t":218,"v":2112},{"yr":"2019","t":219,"v":2135},{"yr":"2019","t":220,"v":2180},{"yr":"2019","t":222,"v":2067},{"yr":"2019","t":223,"v":1932},{"yr":"2019","t":224,"v":2022},{"yr":"2019","t":225,"v":2090},{"yr":"2019","t":227,"v":2157},{"yr":"2019","t":228,"v":2112},{"yr":"2019","t":229,"v":2090},{"yr":"2019","t":231,"v":2067},{"yr":"2019","t":232,"v":2022},{"yr":"2019","t":234,"v":2067},{"yr":"2019","t":235,"v":2202},{"yr":"2019","t":236,"v":2292},{"yr":"2019","t":238,"v":2337},{"yr":"2019","t":239,"v":2382},{"yr":"2019","t":240,"v":2337},{"yr":"2019","t":242,"v":2247},{"yr":"2019","t":243,"v":2157},{"yr":"2019","t":244,"v":2112},{"yr":"2019","t":246,"v":2067},{"yr":"2019","t":247,"v":2022},{"yr":"2019","t":249,"v":2067},{"yr":"2019","t":250,"v":2157},{"yr":"2019","t":251,"v":2090},{"yr":"2019","t":252,"v":2067},
{"yr":"2020","t":0,"v":2540},{"yr":"2020","t":1,"v":2551},{"yr":"2020","t":2,"v":2473},{"yr":"2020","t":3,"v":2495},{"yr":"2020","t":4,"v":2292},{"yr":"2020","t":5,"v":2518},{"yr":"2020","t":6,"v":2563},{"yr":"2020","t":7,"v":2630},{"yr":"2020","t":9,"v":2653},{"yr":"2020","t":10,"v":2540},{"yr":"2020","t":11,"v":2428},{"yr":"2020","t":12,"v":2473},{"yr":"2020","t":13,"v":2563},{"yr":"2020","t":14,"v":2473},{"yr":"2020","t":15,"v":2608},{"yr":"2020","t":16,"v":2450},{"yr":"2020","t":17,"v":2473},{"yr":"2020","t":18,"v":2360},{"yr":"2020","t":19,"v":2428},{"yr":"2020","t":20,"v":2473},{"yr":"2020","t":22,"v":2495},{"yr":"2020","t":23,"v":2540},{"yr":"2020","t":25,"v":2495},{"yr":"2020","t":26,"v":2563},{"yr":"2020","t":27,"v":2619},{"yr":"2020","t":28,"v":2585},{"yr":"2020","t":29,"v":2506},{"yr":"2020","t":30,"v":2653},{"yr":"2020","t":31,"v":2518},{"yr":"2020","t":33,"v":2585},{"yr":"2020","t":34,"v":2630},{"yr":"2020","t":35,"v":2450},{"yr":"2020","t":36,"v":2360},{"yr":"2020","t":38,"v":2518},{"yr":"2020","t":39,"v":2473},{"yr":"2020","t":40,"v":2405},{"yr":"2020","t":41,"v":2585},{"yr":"2020","t":42,"v":2540},{"yr":"2020","t":43,"v":2540},{"yr":"2020","t":45,"v":2540},{"yr":"2020","t":46,"v":2495},{"yr":"2020","t":48,"v":2428},{"yr":"2020","t":49,"v":2473},{"yr":"2020","t":50,"v":2450},{"yr":"2020","t":52,"v":2428},{"yr":"2020","t":53,"v":2473},{"yr":"2020","t":55,"v":2540},{"yr":"2020","t":56,"v":2585},{"yr":"2020","t":58,"v":2518},{"yr":"2020","t":59,"v":2563},{"yr":"2020","t":60,"v":2428},{"yr":"2020","t":61,"v":2495},{"yr":"2020","t":63,"v":2563},{"yr":"2020","t":64,"v":2540},{"yr":"2020","t":65,"v":2540},{"yr":"2020","t":67,"v":2563},{"yr":"2020","t":68,"v":2653},{"yr":"2020","t":69,"v":2608},{"yr":"2020","t":70,"v":2608},{"yr":"2020","t":72,"v":2585},{"yr":"2020","t":73,"v":2563},{"yr":"2020","t":75,"v":2653},{"yr":"2020","t":76,"v":2608},{"yr":"2020","t":77,"v":2686},{"yr":"2020","t":78,"v":2540},{"yr":"2020","t":79,"v":2608},{"yr":"2020","t":80,"v":2473},{"yr":"2020","t":81,"v":2371},{"yr":"2020","t":82,"v":2473},{"yr":"2020","t":84,"v":2641},{"yr":"2020","t":85,"v":2585},{"yr":"2020","t":86,"v":2563},{"yr":"2020","t":87,"v":2675},{"yr":"2020","t":88,"v":2473},{"yr":"2020","t":89,"v":2630},{"yr":"2020","t":91,"v":2698},{"yr":"2020","t":92,"v":2765},{"yr":"2020","t":93,"v":2698},{"yr":"2020","t":95,"v":2608},{"yr":"2020","t":96,"v":2743},{"yr":"2020","t":97,"v":2777},{"yr":"2020","t":98,"v":2855},{"yr":"2020","t":99,"v":2743},{"yr":"2020","t":100,"v":2563},{"yr":"2020","t":101,"v":2551},{"yr":"2020","t":103,"v":2473},{"yr":"2020","t":104,"v":2495},{"yr":"2020","t":106,"v":2540},{"yr":"2020","t":107,"v":2675},{"yr":"2020","t":108,"v":2518},{"yr":"2020","t":109,"v":2428},{"yr":"2020","t":110,"v":2405},{"yr":"2020","t":111,"v":2473},{"yr":"2020","t":113,"v":2495},{"yr":"2020","t":114,"v":2428},{"yr":"2020","t":116,"v":2292},{"yr":"2020","t":117,"v":2360},{"yr":"2020","t":118,"v":2315},{"yr":"2020","t":119,"v":2518},{"yr":"2020","t":120,"v":2337},{"yr":"2020","t":121,"v":2202},{"yr":"2020","t":122,"v":2112},{"yr":"2020","t":124,"v":2225},{"yr":"2020","t":125,"v":2315},{"yr":"2020","t":126,"v":2270},{"yr":"2020","t":128,"v":2315},{"yr":"2020","t":129,"v":2292},{"yr":"2020","t":131,"v":2315},{"yr":"2020","t":132,"v":2202},{"yr":"2020","t":134,"v":2157},{"yr":"2020","t":135,"v":2247},{"yr":"2020","t":136,"v":2112},{"yr":"2020","t":138,"v":2202},{"yr":"2020","t":139,"v":2337},{"yr":"2020","t":141,"v":2247},{"yr":"2020","t":142,"v":2157},{"yr":"2020","t":144,"v":2247},{"yr":"2020","t":145,"v":2157},{"yr":"2020","t":146,"v":2180},{"yr":"2020","t":148,"v":2292},{"yr":"2020","t":149,"v":2180},{"yr":"2020","t":151,"v":2135},{"yr":"2020","t":152,"v":2247},{"yr":"2020","t":154,"v":2337},{"yr":"2020","t":155,"v":2450},{"yr":"2020","t":156,"v":2337},{"yr":"2020","t":157,"v":2090},{"yr":"2020","t":159,"v":2045},{"yr":"2020","t":160,"v":2090},{"yr":"2020","t":161,"v":2112},{"yr":"2020","t":163,"v":2247},{"yr":"2020","t":164,"v":2135},{"yr":"2020","t":166,"v":2045},{"yr":"2020","t":167,"v":2180},{"yr":"2020","t":168,"v":2157},{"yr":"2020","t":169,"v":2135},{"yr":"2020","t":171,"v":2112},{"yr":"2020","t":172,"v":2225},{"yr":"2020","t":173,"v":2135},{"yr":"2020","t":175,"v":2315},{"yr":"2020","t":176,"v":2292},{"yr":"2020","t":177,"v":2349},{"yr":"2020","t":178,"v":2247},{"yr":"2020","t":179,"v":2180},{"yr":"2020","t":180,"v":2112},{"yr":"2020","t":182,"v":2090},{"yr":"2020","t":183,"v":2157},{"yr":"2020","t":184,"v":2112},{"yr":"2020","t":186,"v":2067},{"yr":"2020","t":187,"v":2090},{"yr":"2020","t":189,"v":2045},{"yr":"2020","t":190,"v":2112},{"yr":"2020","t":192,"v":2157},{"yr":"2020","t":193,"v":2022},{"yr":"2020","t":194,"v":2112},{"yr":"2020","t":195,"v":2157},{"yr":"2020","t":197,"v":2090},{"yr":"2020","t":198,"v":2112},{"yr":"2020","t":199,"v":2157},{"yr":"2020","t":201,"v":2180},{"yr":"2020","t":202,"v":2090},{"yr":"2020","t":204,"v":2247},{"yr":"2020","t":205,"v":2292},{"yr":"2020","t":206,"v":2202},{"yr":"2020","t":207,"v":2157},{"yr":"2020","t":208,"v":2315},{"yr":"2020","t":209,"v":2270},{"yr":"2020","t":210,"v":2202},{"yr":"2020","t":212,"v":2315},{"yr":"2020","t":213,"v":2292},{"yr":"2020","t":214,"v":2157},{"yr":"2020","t":215,"v":2045},{"yr":"2020","t":217,"v":2112},{"yr":"2020","t":218,"v":2202},{"yr":"2020","t":219,"v":2337},{"yr":"2020","t":220,"v":2473}
],
"kgm":[
{"k":"T","t":0,"v":2480},{"k":"T","t":10,"v":2495},{"k":"T","t":20,"v":2510},{"k":"T","t":30,"v":2530},{"k":"T","t":40,"v":2550},{"k":"T","t":50,"v":2570},{"k":"T","t":60,"v":2590},{"k":"T","t":70,"v":2610},{"k":"T","t":80,"v":2620},{"k":"T","t":90,"v":2615},{"k":"T","t":100,"v":2598},{"k":"T","t":110,"v":2570},{"k":"T","t":120,"v":2540},{"k":"T","t":130,"v":2515},{"k":"T","t":140,"v":2493},{"k":"T","t":150,"v":2470},{"k":"T","t":160,"v":2450},{"k":"T","t":170,"v":2432},{"k":"T","t":180,"v":2416},{"k":"T","t":190,"v":2401},{"k":"T","t":200,"v":2387},{"k":"T","t":210,"v":2373},{"k":"T","t":220,"v":2361},{"k":"T","t":230,"v":2350},{"k":"T","t":240,"v":2340},{"k":"T","t":252,"v":2328},
{"k":"kgM 2016","t":0,"v":2290},{"k":"kgM 2016","t":4,"v":2310},{"k":"kgM 2016","t":8,"v":2330},{"k":"kgM 2016","t":15,"v":2350},{"k":"kgM 2016","t":30,"v":2370},{"k":"kgM 2016","t":50,"v":2380},{"k":"kgM 2016","t":76,"v":2392},{"k":"kgM 2016","t":90,"v":2385},{"k":"kgM 2016","t":100,"v":2375},{"k":"kgM 2016","t":120,"v":2348},{"k":"kgM 2016","t":140,"v":2322},{"k":"kgM 2016","t":162,"v":2300},{"k":"kgM 2016","t":180,"v":2282},{"k":"kgM 2016","t":200,"v":2262},{"k":"kgM 2016","t":220,"v":2243},{"k":"kgM 2016","t":240,"v":2228},{"k":"kgM 2016","t":252,"v":2218},
{"k":"kgM 2018","t":0,"v":2430},{"k":"kgM 2018","t":10,"v":2480},{"k":"kgM 2018","t":20,"v":2500},{"k":"kgM 2018","t":30,"v":2510},{"k":"kgM 2018","t":40,"v":2540},{"k":"kgM 2018","t":50,"v":2600},{"k":"kgM 2018","t":63,"v":2698},{"k":"kgM 2018","t":70,"v":2770},{"k":"kgM 2018","t":78,"v":2810},{"k":"kgM 2018","t":88,"v":2822},{"k":"kgM 2018","t":100,"v":2812},{"k":"kgM 2018","t":110,"v":2790},{"k":"kgM 2018","t":120,"v":2745},{"k":"kgM 2018","t":130,"v":2700},{"k":"kgM 2018","t":140,"v":2655},{"k":"kgM 2018","t":150,"v":2610},{"k":"kgM 2018","t":161,"v":2572},{"k":"kgM 2018","t":170,"v":2550},{"k":"kgM 2018","t":180,"v":2532},{"k":"kgM 2018","t":190,"v":2516},{"k":"kgM 2018","t":203,"v":2494},{"k":"kgM 2018","t":220,"v":2470},{"k":"kgM 2018","t":235,"v":2448},{"k":"kgM 2018","t":252,"v":2428},
{"k":"kgM 2020","t":0,"v":2540},{"k":"kgM 2020","t":5,"v":2500},{"k":"kgM 2020","t":10,"v":2515},{"k":"kgM 2020","t":20,"v":2505},{"k":"kgM 2020","t":30,"v":2512},{"k":"kgM 2020","t":50,"v":2508},{"k":"kgM 2020","t":70,"v":2515},{"k":"kgM 2020","t":85,"v":2530},{"k":"kgM 2020","t":90,"v":2545},{"k":"kgM 2020","t":100,"v":2555},{"k":"kgM 2020","t":110,"v":2548},{"k":"kgM 2020","t":120,"v":2530},{"k":"kgM 2020","t":130,"v":2508},{"k":"kgM 2020","t":140,"v":2487},{"k":"kgM 2020","t":150,"v":2467},{"k":"kgM 2020","t":160,"v":2450},{"k":"kgM 2020","t":170,"v":2433},{"k":"kgM 2020","t":180,"v":2418},{"k":"kgM 2020","t":190,"v":2404},{"k":"kgM 2020","t":200,"v":2392},{"k":"kgM 2020","t":210,"v":2381},{"k":"kgM 2020","t":220,"v":2372}
],
"who":[
{"t":0,"v":0},{"t":78,"v":0},{"t":79,"v":18},{"t":80,"v":5},{"t":81,"v":11},{"t":83,"v":18},{"t":85,"v":41},{"t":86,"v":52},{"t":88,"v":59},{"t":89,"v":60},{"t":90,"v":131},{"t":91,"v":142},{"t":93,"v":142},{"t":94,"v":160},{"t":95,"v":176},{"t":96,"v":86},{"t":97,"v":165},{"t":98,"v":243},{"t":99,"v":235},{"t":100,"v":255},{"t":101,"v":176},{"t":102,"v":131},{"t":103,"v":120},{"t":104,"v":160},{"t":105,"v":257},{"t":106,"v":300},{"t":107,"v":288},{"t":108,"v":245},{"t":109,"v":153},{"t":110,"v":108},{"t":111,"v":198},{"t":112,"v":277},{"t":113,"v":221},{"t":114,"v":215},{"t":115,"v":176},{"t":116,"v":142},{"t":117,"v":108},{"t":118,"v":165},{"t":119,"v":198},{"t":120,"v":185},{"t":121,"v":176},{"t":122,"v":150},{"t":123,"v":97},{"t":124,"v":63},{"t":125,"v":120},{"t":126,"v":153},{"t":127,"v":142},{"t":128,"v":142},{"t":129,"v":86},{"t":130,"v":18},{"t":131,"v":63},{"t":132,"v":97},{"t":133,"v":97},{"t":134,"v":86},{"t":135,"v":70},{"t":136,"v":18},{"t":137,"v":45},{"t":139,"v":63},{"t":140,"v":75},{"t":141,"v":50},{"t":142,"v":18},{"t":143,"v":25},{"t":144,"v":41},{"t":146,"v":52},{"t":147,"v":63},{"t":148,"v":40},{"t":150,"v":11},{"t":152,"v":15},{"t":154,"v":22},{"t":156,"v":30},{"t":158,"v":20},{"t":160,"v":40},{"t":162,"v":25},{"t":165,"v":15},{"t":167,"v":30},{"t":168,"v":25},{"t":170,"v":10},{"t":172,"v":15},{"t":174,"v":20},{"t":176,"v":8},{"t":180,"v":10},{"t":185,"v":5},{"t":190,"v":8},{"t":195,"v":5},{"t":200,"v":5},{"t":205,"v":8},{"t":210,"v":5},{"t":215,"v":6},{"t":220,"v":5},{"t":225,"v":8},{"t":230,"v":5},{"t":235,"v":6},{"t":240,"v":4},{"t":245,"v":5},{"t":250,"v":8},{"t":252,"v":10}
],
"rki":[
{"t":60,"v":0},{"t":66,"v":2},{"t":70,"v":8},{"t":74,"v":20},{"t":76,"v":40},{"t":78,"v":56},{"t":80,"v":100},{"t":81,"v":131},{"t":83,"v":198},{"t":85,"v":243},{"t":86,"v":220},{"t":87,"v":165},{"t":88,"v":266},{"t":90,"v":356},{"t":91,"v":389},{"t":92,"v":380},{"t":93,"v":311},{"t":94,"v":210},{"t":95,"v":176},{"t":96,"v":288},{"t":97,"v":315},{"t":98,"v":277},{"t":99,"v":198},{"t":101,"v":190},{"t":102,"v":165},{"t":103,"v":210},{"t":104,"v":221},{"t":105,"v":198},{"t":107,"v":160},{"t":108,"v":142},{"t":110,"v":120},{"t":111,"v":120},{"t":113,"v":97},{"t":114,"v":75},{"t":116,"v":41},{"t":117,"v":55},{"t":118,"v":86},{"t":120,"v":50},{"t":121,"v":30},{"t":124,"v":20},{"t":126,"v":35},{"t":128,"v":45},{"t":130,"v":20},{"t":132,"v":15},{"t":135,"v":10},{"t":140,"v":8},{"t":150,"v":5},{"t":160,"v":4},{"t":170,"v":3},{"t":180,"v":3},{"t":200,"v":2},{"t":220,"v":2}
]
},
"encoding":{
"x":{"field":"t","type":"quantitative","title":null,"scale":{"domain":[0,252],"nice":false,"zero":false},
 "axis":{"values":[0,7,14,21,28,35,42,49,56,63,70,77,84,91,98,105,112,119,126,133,140,147,154,161,168,175,182,189,196,203,210,217,224,231,238,245,252],
 "labelExpr":"timeFormat(datetime(2020,0,1+datum.value),'%d.%m.')","labelFontSize":11.5,"labelColor":"#333","labelOverlap":false,"labelFlush":false,"labelBound":false,"labelPadding":4,"ticks":false,"domain":false,"grid":true,"gridColor":"#d9d9d9","gridWidth":1}},
"y":{"field":"v","type":"quantitative","title":null,"scale":{"domain":[0,4500],"nice":false},
 "axis":{"values":[0,500,1000,1500,2000,2500,3000,3500,4000,4500],"labelExpr":"replace(format(datum.value,',d'),',',' ')","labelFontSize":10,"labelColor":"#333","labelPadding":3,"tickSize":5,"tickColor":"#aaa","domain":false,"grid":true,"gridColor":"#cfcfcf","gridWidth":1}}
},
"layer":[
{"data":{"name":"ann"},"mark":{"type":"rule","color":"#b3a6d9","strokeWidth":1.2},"encoding":{"y2":{"datum":0}}},
{"data":{"name":"ann"},"mark":{"type":"point","shape":"M0,0H2","size":64,"filled":false,"stroke":"#b3a6d9","strokeWidth":1.2,"opacity":1}},
{"data":{"name":"ex"},"mark":{"type":"area","opacity":1},
 "encoding":{"y2":{"field":"lo"},
 "color":{"datum":"Sterbefälle 2020 ab 60 Jahren abzüglich SARS-CoV-2-Sterbefälle (jeden Alters) laut WHO","scale":{"range":["#f7bdf1"]},
  "legend":{"orient":"none","legendX":73,"legendY":723,"title":null,"padding":0,"symbolType":"M-1,-0.14H1V0.14H-1Z","symbolSize":5184,"symbolStrokeWidth":0,"labelFontSize":13.2,"labelFont":"Liberation Sans","labelColor":"#222","labelOffset":10,"labelLimit":0}}}},
{"data":{"name":"years"},"transform":[{"filter":"datum.yr != '2020'"}],"mark":{"type":"line","strokeWidth":1.4,"invalid":"break-paths-show-domains"},
 "encoding":{
 "color":{"field":"yr","type":"nominal","scale":{"domain":["2016","2017","2018","2019"],"range":["#3535f2","#3fd5d5","#3cb83c","#f9b23a"]},
  "legend":{"orient":"none","legendX":73,"legendY":670,"title":null,"padding":0,"direction":"horizontal","columns":4,"columnPadding":103,"symbolType":"stroke","symbolSize":5184,"symbolStrokeWidth":1.8,"labelFontSize":13.2,"labelFont":"Liberation Sans","labelColor":"#222","labelOffset":10}}}},
{"data":{"name":"kgm"},"transform":[{"filter":"datum.k == 'T'"}],"mark":{"type":"line","strokeDash":[2,2],"strokeWidth":1.5},
 "encoding":{"color":{"datum":"kumulativer gleitender Mittelwert (kgM) 2016 - 2020","scale":{"range":["#333333"]},
  "legend":{"orient":"none","legendX":73,"legendY":687,"title":null,"padding":0,"symbolType":"stroke","symbolSize":5184,"symbolDash":[2,2],"symbolStrokeWidth":1.5,"labelFontSize":13.2,"labelFont":"Liberation Sans","labelColor":"#222","labelOffset":10,"labelLimit":0}}}},
{"data":{"name":"kgm"},"transform":[{"filter":"datum.k != 'T'"}],"mark":{"type":"line","strokeDash":[2,2],"strokeWidth":1.5},
 "encoding":{"color":{"field":"k","type":"nominal","scale":{"domain":["kgM 2016","kgM 2018","kgM 2020"],"range":["#4545ff","#45c045","#ff5555"]},
  "legend":{"orient":"none","legendX":512,"legendY":687,"title":null,"padding":0,"direction":"horizontal","columns":3,"columnPadding":74,"symbolType":"stroke","symbolSize":5184,"symbolDash":[2,2],"symbolStrokeWidth":1.5,"labelFontSize":13.2,"labelFont":"Liberation Sans","labelColor":"#222","labelOffset":10}}}},
{"data":{"name":"who"},"mark":{"type":"line","strokeWidth":1.6},
 "encoding":{"color":{"datum":"SARS-CoV-2-Sterbefälle (jeden Alters) laut WHO","scale":{"range":["#ff33ff"]},
  "legend":{"orient":"none","legendX":73,"legendY":705,"title":null,"padding":0,"symbolType":"stroke","symbolSize":5184,"symbolStrokeWidth":2,"labelFontSize":13.2,"labelFont":"Liberation Sans","labelColor":"#222","labelOffset":10,"labelLimit":0}}}},
{"data":{"name":"rki"},"mark":{"type":"line","strokeWidth":1.2,"strokeDash":[7,3,1,3]},
 "encoding":{"color":{"datum":"SARS-CoV-2-Sterbefälle ab 60 Jahren laut RKI (Meldedatum der Infektion)","scale":{"range":["#a8a8a8"]},
  "legend":{"orient":"none","legendX":512,"legendY":705,"title":null,"padding":0,"symbolType":"stroke","symbolSize":5184,"symbolDash":[7,3,1,3],"symbolStrokeWidth":1.2,"labelFontSize":13.2,"labelFont":"Liberation Sans","labelColor":"#222","labelOffset":10,"labelLimit":0}}}},
{"data":{"name":"years"},"transform":[{"filter":"datum.yr == '2020'"}],"mark":{"type":"line","strokeWidth":3},
 "encoding":{"color":{"datum":"2020","scale":{"range":["#ff0b0b"]},
  "legend":{"orient":"none","legendX":949,"legendY":670,"title":null,"padding":0,"symbolType":"stroke","symbolSize":5184,"symbolStrokeWidth":3.5,"labelFontSize":13.2,"labelFont":"Liberation Sans","labelColor":"#222","labelOffset":10}}}},
{"data":{"name":"ann"},"mark":{"type":"text","align":"left","baseline":"top","dx":13,"dy":-7,"font":"Liberation Serif","fontSize":13.4,"color":"#55348f","lineBreak":"\n","lineHeight":15},
 "encoding":{"text":{"field":"txt"}}}
],
"resolve":{"scale":{"color":"independent"},"legend":{"color":"independent"}}
}
